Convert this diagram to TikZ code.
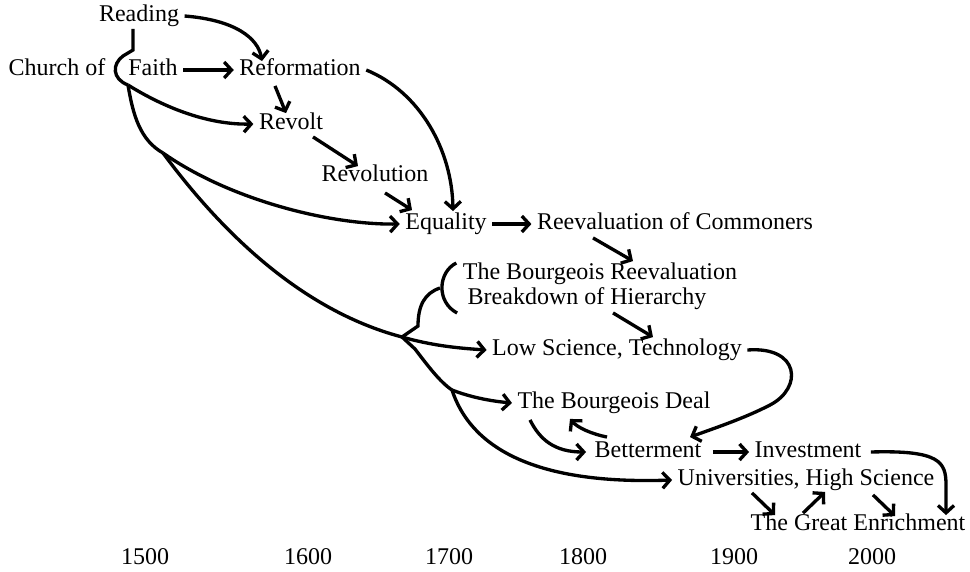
\documentclass[tikz,border=0pt]{standalone}
\usepackage{fontspec}
\setmainfont{Liberation Serif}
\usetikzlibrary{arrows.meta, calc}
\tikzset{
  eventtext/.style={
    inner xsep=4pt, inner ysep=1.5pt, text height=12pt, text depth=4pt,
    font=\fontsize{18}{20}\selectfont
  },
  yeartext/.style={inner sep=0pt, font=\fontsize{18}{20}\selectfont},
  eventline/.style={line width=2.5pt},
  eventarrow/.style={eventline, -{Straight Barb[length=5.5pt,width=12pt]}}
}

\begin{document}
\begin{tikzpicture}[x=0.75pt, y=-0.75pt]
\useasboundingbox (0,0) rectangle (970,571);

\node[eventtext] (reading)    at (139,16)  {Reading};
\node[eventtext] (church)     at (57,70)   {Church of};
\node[eventtext] (faith)      at (153,70)  {Faith};
\node[eventtext] (reform)     at (300,70)  {Reformation};
\node[eventtext] (revolt)     at (291,124) {Revolt};
\node[eventtext] (revolution) at (375,176) {Revolution};
\node[eventtext] (equality)   at (446,224) {Equality};
\node[eventtext] (reevcom)    at (675,224) {Reevaluation of Commoners};
\node[eventtext] (bourgreev)  at (600,274) {The Bourgeois Reevaluation};
\node[eventtext] (breakdown)  at (587,299) {Breakdown of Hierarchy};
\node[eventtext] (lowsci)     at (617,350) {Low Science, Technology};
\node[eventtext] (deal)       at (614,403) {The Bourgeois Deal};
\node[eventtext] (better)     at (648,452) {Betterment};
\node[eventtext] (invest)     at (808,452) {Investment};
\node[eventtext] (univ)       at (806,480) {Universities, High Science};
\node[eventtext] (enrich)     at (858,525) {The Great Enrichment};

\foreach \yr/\xx in {1500/145, 1600/308, 1700/449, 1800/583, 1900/734, 2000/872}
  \node[yeartext] (year\yr) at (\xx,557) {\yr};

\coordinate (faithfork) at (128,85);
\coordinate (lowfork)   at (163,153);
\coordinate (bracemid)  at (440,288);
\coordinate (bracetip)  at (402,337);
\coordinate (dealfork)  at (452,390);

\draw[eventarrow] (reading.east) .. controls (235,20) and (258,38) .. ($(reform.north)+(-38,4)$);
\draw[eventarrow] (faith) -- (reform);
\draw[eventarrow] ($(reform.south)+(-25,3)$) -- ($(revolt.north)+(-5,2)$);
\draw[eventline] ($(reading.south)+(-6,0)$) -- (133,50) -- (123,56) .. controls (112,64) and (112,79) .. (faithfork);
\draw[eventarrow] (faithfork) .. controls (160,105) and (205,125) .. (revolt.west);
\draw[eventline] (faithfork) .. controls (133,115) and (140,140) .. (lowfork);
\draw[eventarrow] (lowfork) .. controls (230,200) and (330,225) .. (equality.west);
\draw[eventline] (lowfork) .. controls (220,230) and (300,310) .. (bracetip);
\draw[eventarrow] (bracetip) .. controls (430,345) and (455,348) .. (lowsci.west);

\draw[eventline] ($(bourgreev.west)+(-1,-11)$) .. controls (438,272) and (436,302) .. ($(breakdown.west)+(-5,14)$);
\draw[eventline] (bracemid) .. controls (425,293) and (418,305) .. (418,326) -- (bracetip) -- (415,349)
  .. controls (428,366) and (440,382) .. (dealfork);
\draw[eventarrow] (dealfork) .. controls (470,397) and (490,401) .. (deal.west);
\draw[eventarrow] (dealfork) .. controls (470,445) and (530,485) .. (univ.west);

\draw[eventarrow] (reform.east) .. controls (420,92) and (452,150) .. ($(equality.north)+(7,0)$);
\draw[eventarrow] ($(revolt.south)+(22,0)$) -- ($(revolution.north)+(-17,3)$);
\draw[eventarrow] ($(revolution.south)+(10,4)$) -- ($(equality.north)+(-34,-1)$);
\draw[eventarrow] (equality) -- (reevcom);
\draw[eventarrow] ($(reevcom.south)+(-82,1)$) -- ($(bourgreev.north)+(33,0)$);
\draw[eventarrow] ($(breakdown.south)+(26,1)$) -- ($(lowsci.north)+(36,0)$);
\draw[eventarrow] (lowsci.east) .. controls (800,346) and (803,388) .. (770,405)
  .. controls (745,418) and (715,428) .. ($(better.north)+(42,-2)$);
\draw[eventarrow] ($(deal.south)+(-84,4)$) .. controls (540,440) and (555,452) .. ($(better.west)+(-3,0)$);
\draw[eventarrow] ($(better.north)+(-41,-2)$) .. controls (592,434) and (578,428) .. ($(deal.south)+(-44,3)$);
\draw[eventarrow] ($(better.east)+(6,0)$) -- (invest.west);
\draw[eventarrow] ($(invest.east)+(4,0)$) .. controls (940,450) and (946,462) .. (946,485) -- ($(enrich.north)+(88,3)$);
\draw[eventarrow] ($(univ.south)+(-54,0)$) -- ($(enrich.north)+(-83,3)$);
\draw[eventarrow] ($(enrich.north)+(-55,1)$) -- ($(univ.south)+(19,-1)$);
\draw[eventarrow] ($(univ.south)+(67,2)$) -- ($(enrich.north)+(37,4)$);
\end{tikzpicture}
\end{document}
